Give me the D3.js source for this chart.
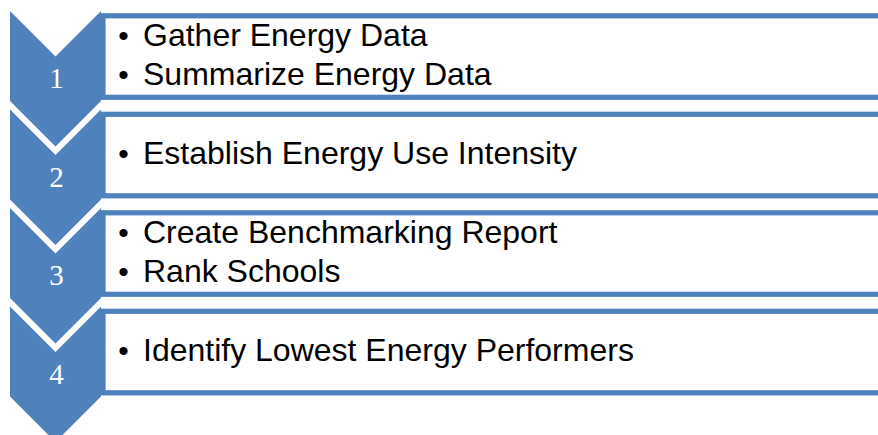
<!DOCTYPE html>
<html>
<head>
<meta charset="utf-8">
<script src="https://cdn.jsdelivr.net/npm/d3@7"></script>
<style>
  body { margin: 0; background: #fff; }
  svg { display: block; }
</style>
</head>
<body>
<svg width="878" height="435"></svg>
<script>
// steps of the process
var steps = ["1", "2", "3", "4"];
var stepItems = [
    ["Gather Energy Data", "Summarize Energy Data"],
    ["Establish Energy Use Intensity"],
    ["Create Benchmarking Report", "Rank Schools"],
    ["Identify Lowest Energy Performers"]
];

var blue = "#4f81bd";
var svg = d3.select("svg");

var chevLeft = 10, chevW = 91, chevSide = 90, notch = 45.5;
var rowH = 98.5, top0 = 11;

var y = d3.scaleBand()
    .domain(steps)
    .range([top0, top0 + rowH * steps.length])
    .paddingInner(0)
    .paddingOuter(0);

var rows = svg.selectAll(".row")
    .data(steps)
    .enter()
    .append("g")
    .attr("class", "row")
    .attr("transform", function (d) { return "translate(0," + y(d) + ")"; });

// boxes first, chevrons on top
rows.append("rect")
    .attr("x", chevLeft + chevW + 2)
    .attr("y", 4.8)
    .attr("width", 900)
    .attr("height", 81.5)
    .attr("fill", "#fff")
    .attr("stroke", blue)
    .attr("stroke-width", 5.2);

rows.append("path")
    .attr("fill", blue)
    .attr("d", function () {
        var p = d3.path();
        var l = chevLeft, r = chevLeft + chevW, m = chevLeft + chevW / 2;
        p.moveTo(l, 0);
        p.lineTo(m, notch);
        p.lineTo(r, 0);
        p.lineTo(r, chevSide);
        p.lineTo(m, chevSide + notch);
        p.lineTo(l, chevSide);
        p.closePath();
        return p.toString();
    });

rows.append("text")
    .attr("x", chevLeft + chevW / 2 + 1)
    .attr("y", 77)
    .attr("text-anchor", "middle")
    .attr("fill", "#fff")
    .style("font-family", "'Liberation Serif', 'DejaVu Serif', serif")
    .style("font-size", "29px")
    .text(function (d) { return d; });

rows.each(function (d, i) {
    var items = stepItems[i];
    var g = d3.select(this);
    items.forEach(function (t, j) {
        var base = 54.5 + (j - (items.length - 1) / 2) * 38.5;
        g.append("text")
            .attr("x", 123.5)
            .attr("y", base)
            .attr("text-anchor", "middle")
            .style("font-family", "'Liberation Sans', Arial, sans-serif")
            .style("font-size", "30px")
            .text("\u2022");
        g.append("text")
            .attr("x", 143)
            .attr("y", base)
            .style("font-family", "'Liberation Sans', Arial, sans-serif")
            .style("font-size", "32px")
            .attr("fill", "#000")
            .text(t);
    });
});
</script>
</body>
</html>
